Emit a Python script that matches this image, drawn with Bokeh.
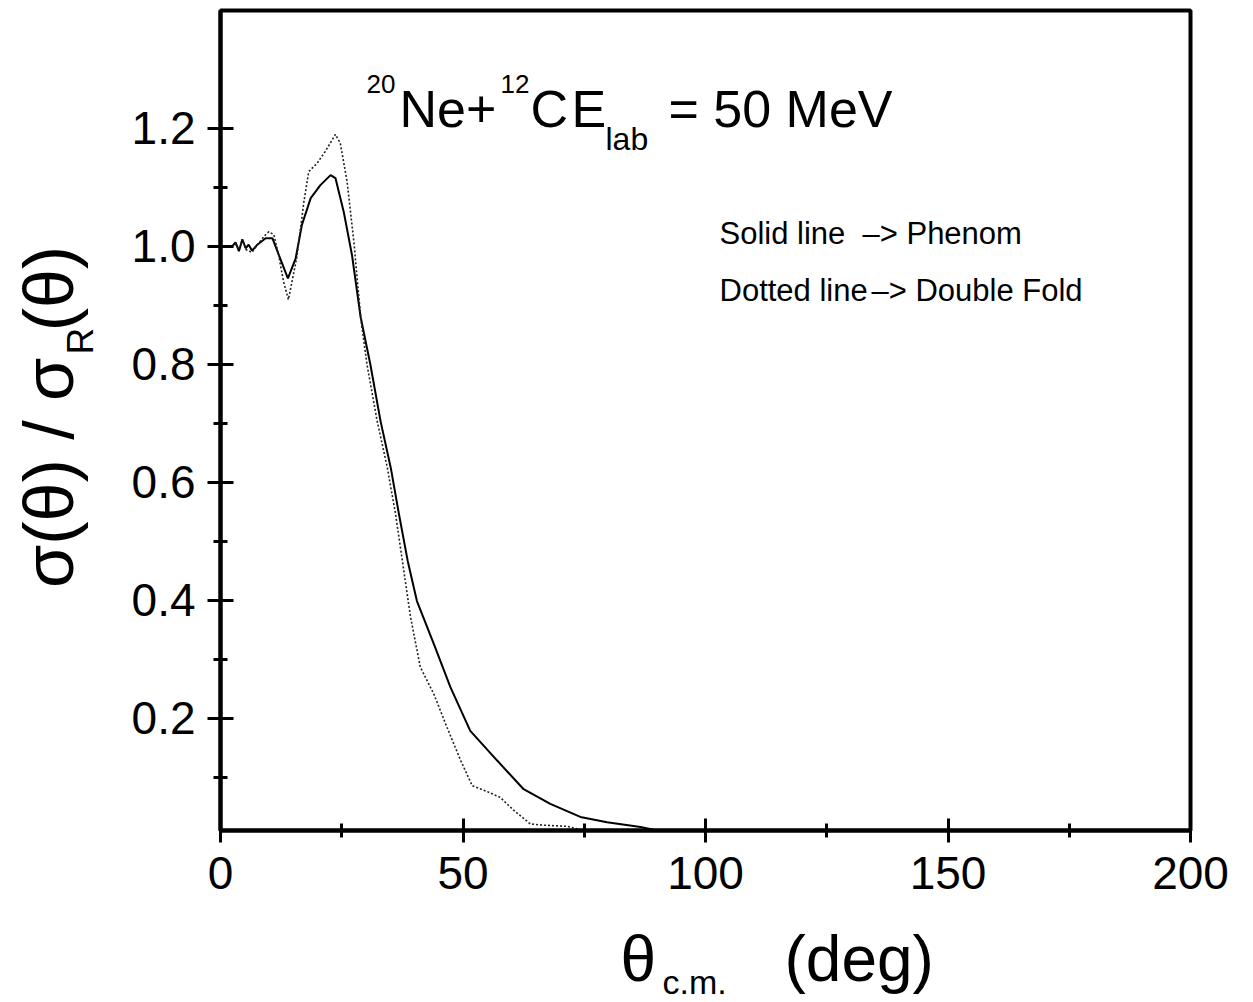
import math
from bokeh.plotting import figure
from bokeh.layouts import row, column
from bokeh.models import Range1d, FixedTicker, PrintfTickFormatter, Label
from bokeh.embed import file_html
from bokeh.resources import INLINE

# ---------------- data ----------------
theta_phenom = [0, 2.4, 3.1, 3.8, 4.5, 5.2, 5.8, 6.5, 7.6, 9.3, 10.7, 12.0, 13.9, 15.5,
                16.8, 18.6, 20.6, 22.7, 23.7, 25.4, 27.1, 28.9, 30.9, 33.0, 35.1, 36.8,
                38.6, 40.5, 44.0, 47.4, 51.5, 57.0, 62.5, 68.0, 74.2, 79.7, 86.6, 90.0]
ratio_phenom = [1.0, 1.0, 1.007, 0.992, 1.012, 0.997, 1.003, 0.993, 1.003, 1.014, 1.014,
                0.986, 0.946, 0.980, 1.037, 1.082, 1.104, 1.121, 1.116, 1.059, 0.986,
                0.880, 0.800, 0.704, 0.625, 0.546, 0.467, 0.399, 0.326, 0.253, 0.179,
                0.129, 0.080, 0.055, 0.033, 0.024, 0.016, 0.010]

theta_fold = [0, 2.4, 3.1, 3.8, 4.5, 5.2, 6.5, 7.6, 9.3, 10.0, 11.0, 12.0, 13.0, 14.0,
              15.7, 17.2, 18.2, 19.9, 21.6, 23.7, 24.7, 26.1, 27.5, 28.9, 30.2, 32.3,
              34.4, 36.1, 37.5, 39.2, 41.2, 44.0, 46.7, 49.5, 51.9, 55.0, 57.7, 60.5,
              63.9, 66.7, 71.5, 74.0]
ratio_fold = [1.0, 1.0, 1.005, 0.995, 1.012, 0.995, 0.990, 1.003, 1.020, 1.025, 1.020,
              0.985, 0.940, 0.910, 0.980, 1.076, 1.127, 1.141, 1.161, 1.190, 1.175,
              1.110, 1.008, 0.880, 0.800, 0.704, 0.625, 0.546, 0.467, 0.371, 0.287,
              0.241, 0.185, 0.129, 0.086, 0.076, 0.066, 0.044, 0.021, 0.019, 0.017,
              0.012]

x_ticks = [0, 50, 100, 150, 200]
x_minor = [25, 75, 125, 175]
y_ticks = [0.2, 0.4, 0.6, 0.8, 1.0, 1.2]
y_minor = [0.1, 0.3, 0.5, 0.7, 0.9, 1.1]

title_parts = ["20", "Ne+", "12", "C", "E", "lab", "= 50 MeV"]
note_parts = ["Solid line", "\u2013> Phenom", "Dotted line", "\u2013> Double Fold"]
ylabel_parts = ["\u03c3(\u03b8) / \u03c3", "R", "(\u03b8)"]
xlabel_parts = ["\u03b8", "c.m.", "(deg)"]

# ---------------- layout geometry (pixels) ----------------
W, H = 1253, 1002
YLW = 110            # width of the y-label strip
XLH = 82             # height of the x-label strip
MW, MH = W - YLW, H - XLH
BL, BR, BT, BB = 220 - YLW, 63, 10, MH - 830
X0, X1, Y0, Y1 = 0, 200, 0.01, 1.4

FONT = "Liberation Sans"
SHIFT = 0.38      # baseline correction for horizontal text (fraction of font size)

# ---------------- main figure ----------------
p = figure(width=MW, height=MH, x_range=Range1d(X0, X1), y_range=Range1d(Y0, Y1),
           output_backend="svg", toolbar_location=None,
           min_border_left=BL, min_border_right=BR, min_border_top=BT, min_border_bottom=BB)
p.grid.visible = False
p.outline_line_color = "black"
p.outline_line_width = 4
p.background_fill_color = "white"
p.border_fill_color = "white"

fw = MW - BL - BR
fh = MH - BT - BB
def dx(px):  # canvas px -> data x
    return X0 + (px - 220) / fw * (X1 - X0)
def dy(py):  # canvas px -> data y
    return Y0 + (830 - py) / fh * (Y1 - Y0)

for ax in (p.xaxis[0], p.yaxis[0]):
    ax.axis_line_width = 4
    ax.axis_line_color = "black"
    ax.major_tick_line_width = 3
    ax.minor_tick_line_width = 3
    ax.major_tick_line_color = "black"
    ax.minor_tick_line_color = "black"
    ax.major_label_text_color = "black"
    ax.major_label_text_font = FONT
    ax.major_label_text_font_size = "46px"

p.xaxis.ticker = FixedTicker(ticks=x_ticks, minor_ticks=x_minor)
p.xaxis.formatter = PrintfTickFormatter(format="%d")
p.xaxis.major_tick_in = 12
p.xaxis.major_tick_out = 12
p.xaxis.minor_tick_in = 7
p.xaxis.minor_tick_out = 7
p.xaxis.major_label_standoff = 14

p.yaxis.ticker = FixedTicker(ticks=y_ticks, minor_ticks=y_minor)
p.yaxis.formatter = PrintfTickFormatter(format="%.1f")
p.yaxis.major_tick_in = 13
p.yaxis.major_tick_out = 13
p.yaxis.minor_tick_in = 7
p.yaxis.minor_tick_out = 7
p.yaxis.major_label_standoff = 12

p.line(theta_phenom, ratio_phenom, line_color="black", line_width=2)
p.line(theta_fold, ratio_fold, line_color="#222222", line_width=1.6, line_dash="2 2")

def mlab(text, px, pyb, size):
    p.add_layout(Label(x=dx(px), y=dy(pyb - SHIFT * size), text=text, text_font=FONT,
                       text_font_size=f"{size}px", text_color="black",
                       text_align="left", text_baseline="alphabetic"))

# title
mlab(title_parts[0], 366, 93, 26)
mlab(title_parts[1], 399, 128, 52)
mlab(title_parts[2], 500, 93, 26)
mlab(title_parts[3], 530, 128, 52)
mlab(title_parts[4], 571, 128, 52)
mlab(title_parts[5], 605, 151, 32)
mlab(title_parts[6], 668, 128, 52)

# notes
mlab(note_parts[0], 719, 245, 31)
mlab(note_parts[1], 862, 245, 31)
mlab(note_parts[2], 719, 302, 31)
mlab(note_parts[3], 871, 302, 31)

# ---------------- label strips ----------------
def strip(w, h):
    f = figure(width=w, height=h, x_range=Range1d(0, w), y_range=Range1d(0, h),
               x_axis_type=None, y_axis_type=None, output_backend="svg",
               toolbar_location=None, min_border=0)
    f.outline_line_color = None
    f.background_fill_color = "white"
    f.border_fill_color = "white"
    return f

ys = strip(YLW, MH)
def ylab(text, pxb, py_start, size, corr):
    ys.add_layout(Label(x=pxb - SHIFT * size - 3, y=MH - (py_start + corr),
                        text=text, text_font=FONT,
                        text_font_size=f"{size}px", text_color="black",
                        text_align="left", text_baseline="alphabetic", angle=math.pi / 2))

ylab(ylabel_parts[0], 78, 587, 70, 61)
ylab(ylabel_parts[1], 97, 357, 37, 29)
ylab(ylabel_parts[2], 78, 324, 70, 36)

xs = strip(W, XLH)
def xlab(text, px, pyb, size):
    xs.add_layout(Label(x=px, y=H - (pyb - SHIFT * size), text=text, text_font=FONT,
                        text_font_size=f"{size}px", text_color="black",
                        text_align="left", text_baseline="alphabetic"))

xlab(xlabel_parts[0], 620, 983, 64)
xlab(xlabel_parts[1], 662, 994, 34)
xlab(xlabel_parts[2], 784, 983, 64)

layout = column(row(ys, p), xs)
open("out.html", "w").write(file_html(layout, INLINE))
